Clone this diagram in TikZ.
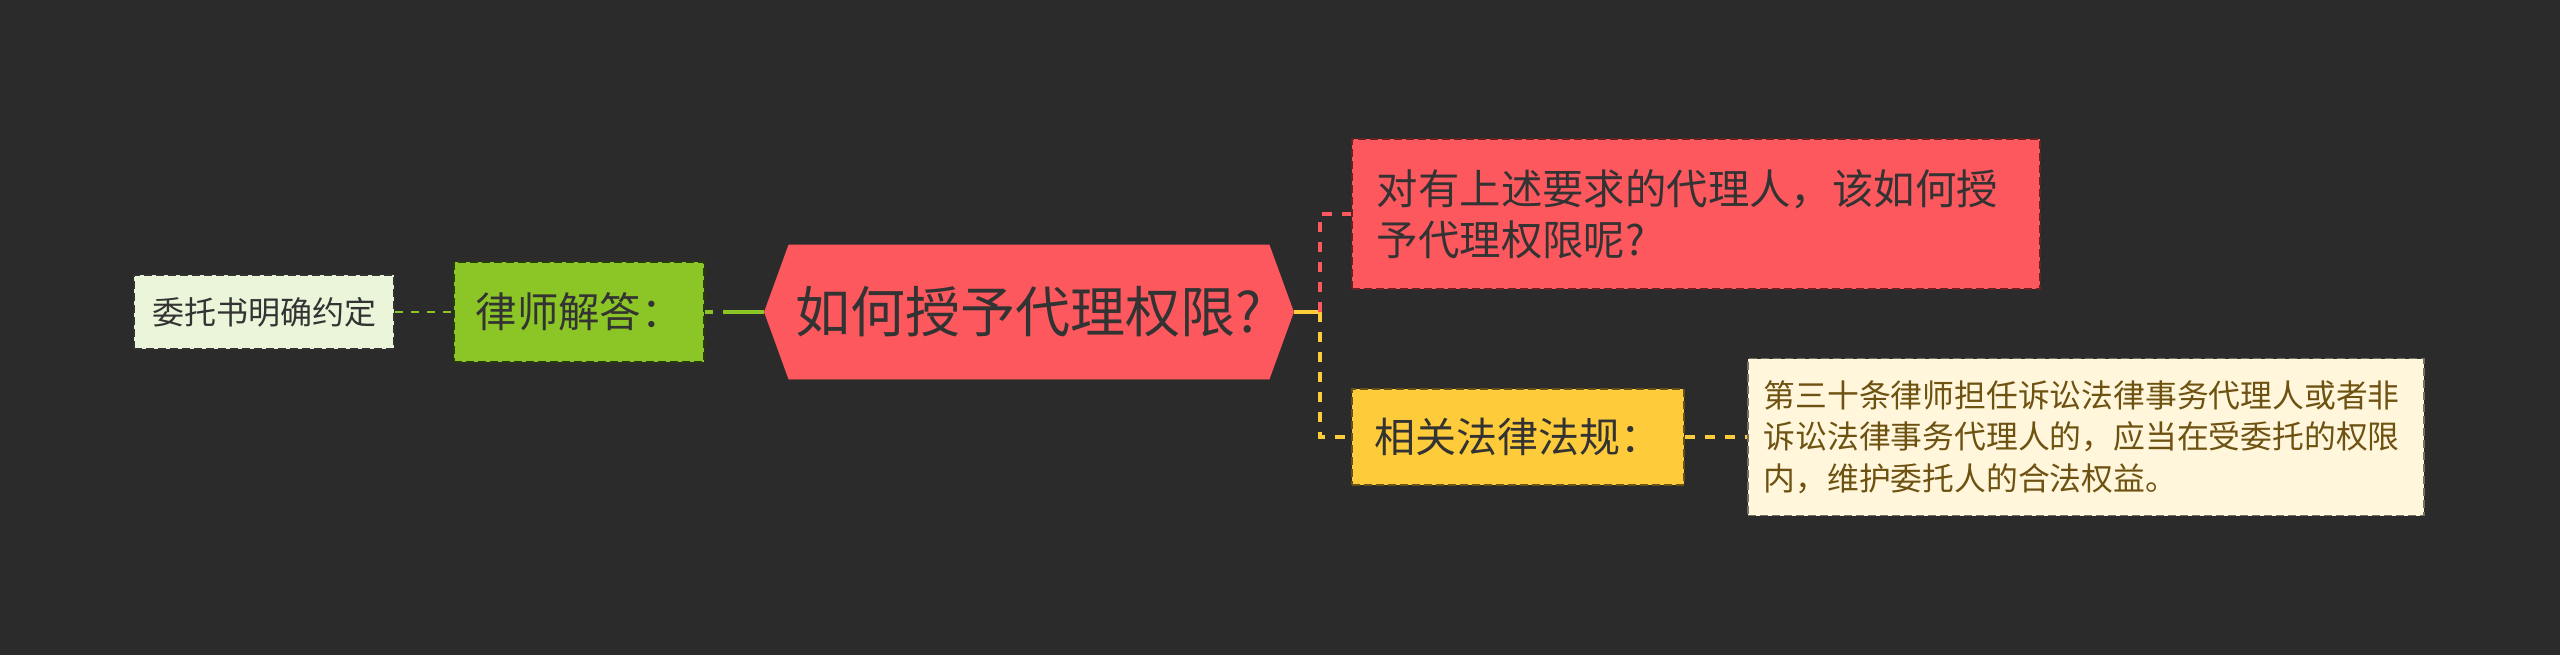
\documentclass[tikz,border=0pt]{standalone}
\usepackage{fontspec}
\setmainfont{Noto Sans CJK SC}
\usepackage{xcolor}
\usepackage{tikz}
\usetikzlibrary{positioning, shapes.symbols}
\definecolor{bgdark}{RGB}{43,43,43}
\definecolor{mapred}{RGB}{252,88,94}
\definecolor{mapgreen}{RGB}{139,198,38}
\definecolor{paleleaf}{RGB}{234,245,217}
\definecolor{mapyellow}{RGB}{254,203,58}
\definecolor{cream}{RGB}{255,246,219}
\definecolor{inkdark}{RGB}{51,51,51}
\definecolor{inkbrown}{RGB}{110,82,18}
\tikzset{
    topic/.style={
        signal,
        signal to=west and east,
        signal pointer angle=140,
        draw=mapred,
        fill=mapred,
        minimum width=264.5pt,
        minimum height=67pt,
        inner sep=0pt,
        text=inkdark,
        font=\fontsize{27.5pt}{32pt}\selectfont
    },
    leafbox/.style={
        rectangle,
        draw=inkdark,
        line width=0.9pt,
        dash pattern=on 4pt off 2pt,
        inner sep=0pt
    },
    answer/.style={
        leafbox,
        fill=mapgreen,
        draw=black!70!mapgreen,
        minimum width=125pt,
        minimum height=50pt,
        text=inkdark,
        font=\fontsize{20.7pt}{25pt}\selectfont
    },
    note/.style={
        leafbox,
        fill=paleleaf,
        minimum width=130pt,
        minimum height=37pt,
        text=inkdark,
        font=\fontsize{16pt}{20pt}\selectfont
    },
    question/.style={
        leafbox,
        fill=mapred,
        draw=black!60!mapred,
        text width=319pt,
        inner xsep=12.5pt,
        minimum height=75pt,
        align=left,
        text=inkdark,
        font=\fontsize{20.7pt}{25.3pt}\selectfont
    },
    lawbox/.style={
        leafbox,
        fill=mapyellow,
        draw=black!60!mapyellow,
        minimum width=166pt,
        minimum height=48pt,
        text=inkdark,
        font=\fontsize{20.5pt}{25pt}\selectfont
    },
    article/.style={
        leafbox,
        fill=cream,
        draw=black!55!cream,
        text width=322pt,
        inner xsep=8pt,
        minimum height=78.5pt,
        align=left,
        text=inkbrown,
        font=\fontsize{15.9pt}{20.8pt}\selectfont
    },
    greenlink/.style={
        draw=mapgreen,
        line width=2pt,
        dash pattern=on 4pt off 5pt on 40pt off 0pt
    },
    thinlink/.style={
        draw=mapgreen,
        line width=1.3pt,
        dash pattern=on 4pt off 4pt
    },
    redlink/.style={
        draw=mapred,
        line width=2pt,
        dash pattern=on 5pt off 5pt
    },
    yellowlink/.style={
        draw=mapyellow,
        line width=2pt,
        dash pattern=on 5pt off 5pt
    }
}

\begin{document}
\begin{tikzpicture}
\useasboundingbox (-514.5pt,-171.5pt) rectangle (765.5pt,156pt);
\fill[bgdark] (-514.5pt,-171.5pt) rectangle (765.5pt,156pt);

\node[topic] (hex) at (0,0) {如何授予代理权限?};

% Left branch
\node[answer, left=29.5pt of hex] (ans) {律师解答：};
\node[note, left=29pt of ans] (tip) {委托书明确约定};

\draw[greenlink] (ans.east) -- (hex.west);
\draw[thinlink] (tip.east) -- (ans.west);

% Right branches
\node[question, right=28.5pt of hex, yshift=49pt] (ask) {对有上述要求的代理人，该如何授\\予代理权限呢?};
\node[lawbox, right=28.5pt of hex, yshift=-62.5pt] (law) {相关法律法规：};
\node[article, right=31pt of law] (rule) {第三十条律师担任诉讼法律事务代理人或者非\\诉讼法律事务代理人的，应当在受委托的权限\\内，维护委托人的合法权益。};

\coordinate[right=13pt of hex.east] (fork);
\draw[mapyellow, line width=2pt] (hex.east) -- (fork);
\draw[redlink] (fork) |- (ask.west);
\draw[yellowlink] (fork) |- (law.west);
\draw[yellowlink] (law.east) -- (rule.west);

\end{tikzpicture}
\end{document}
